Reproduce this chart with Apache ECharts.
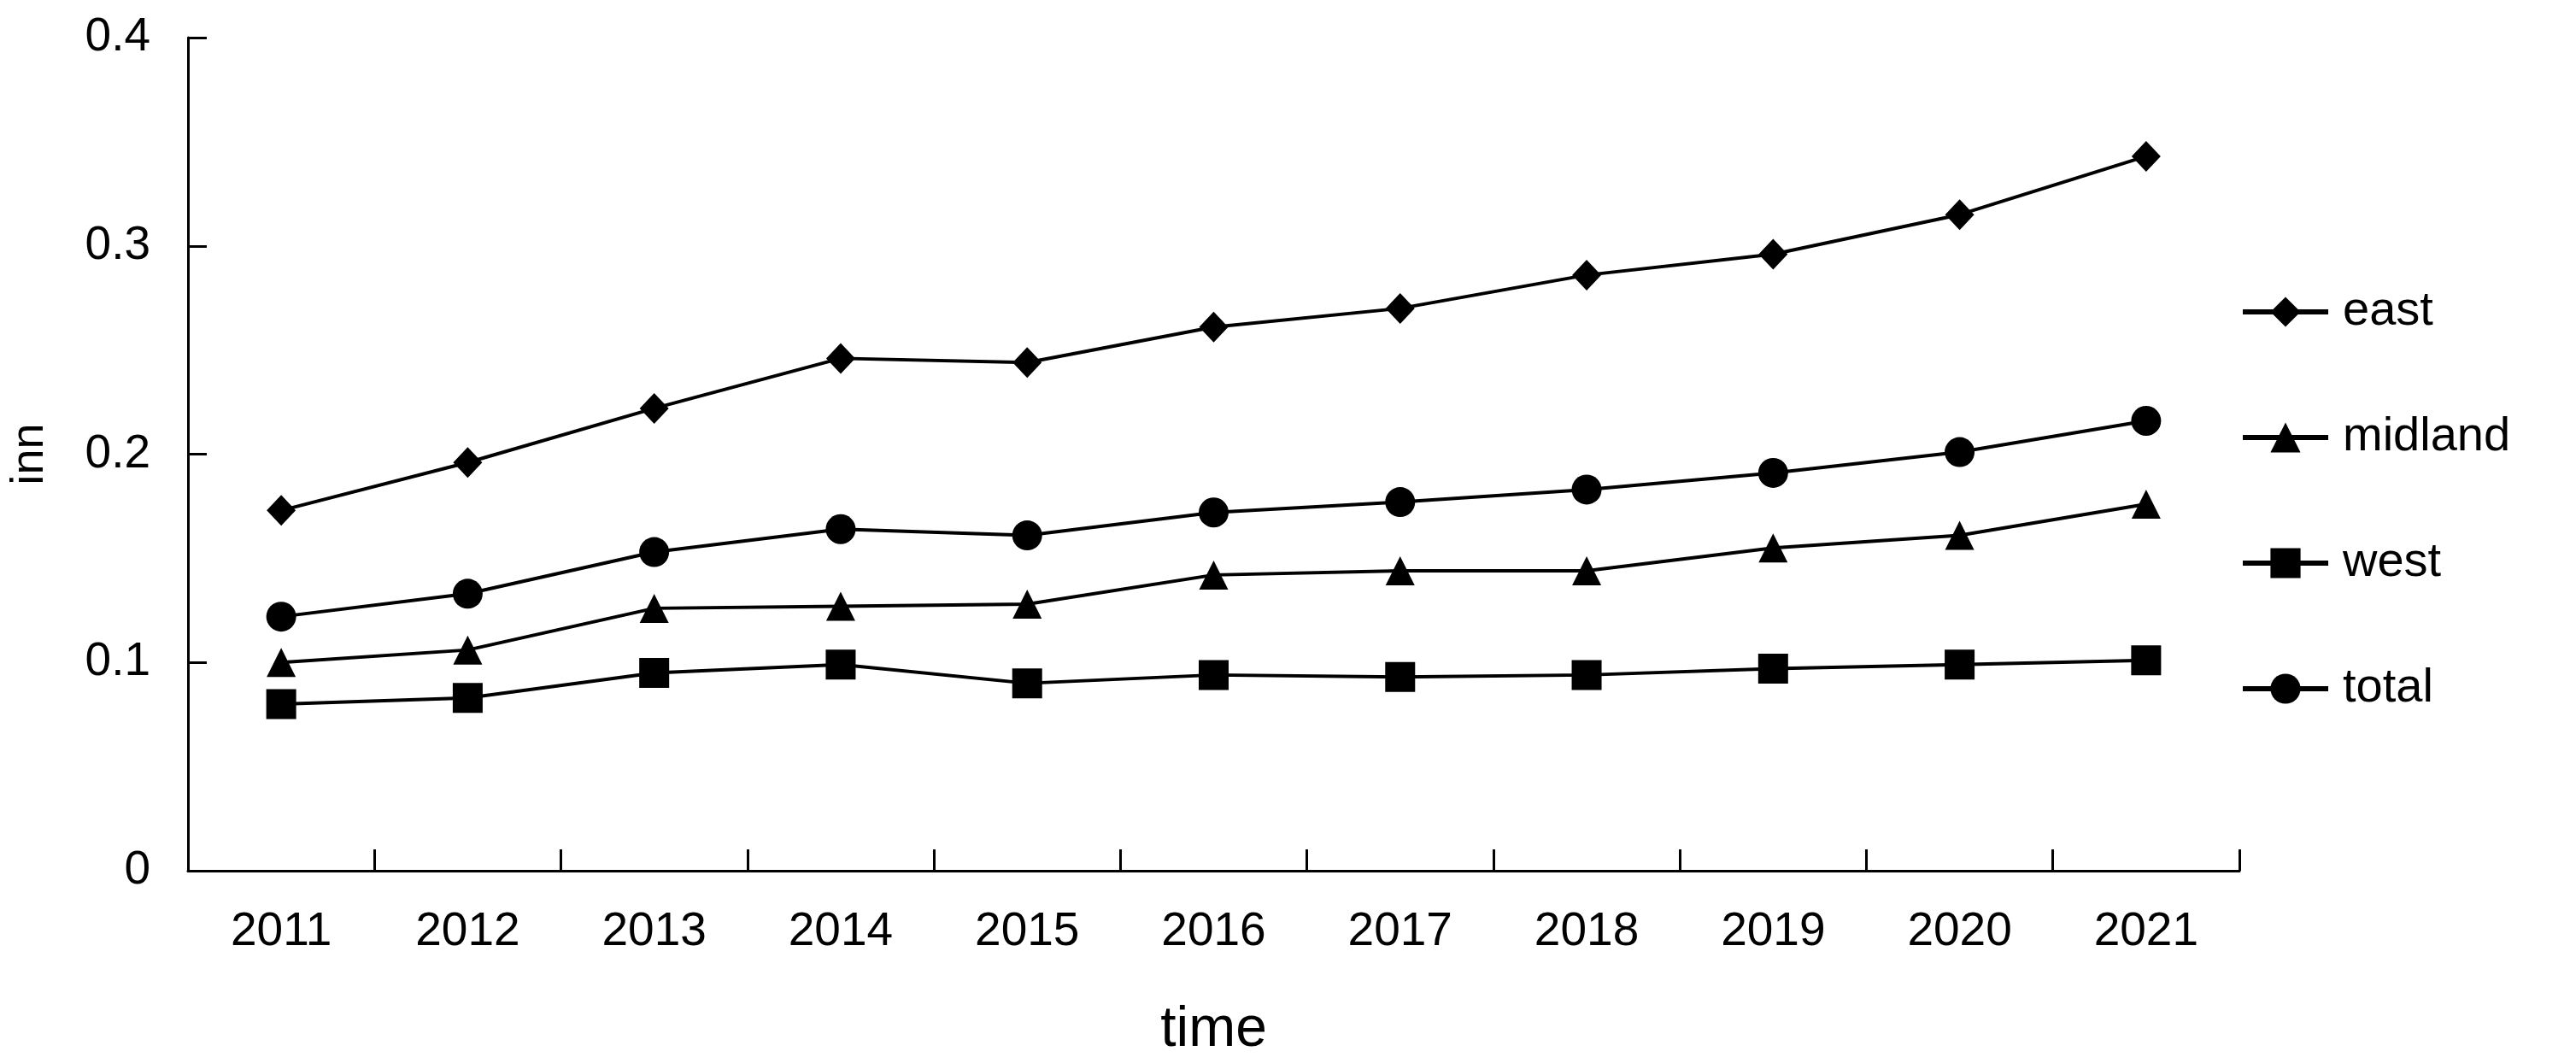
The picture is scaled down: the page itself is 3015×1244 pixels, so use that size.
<!DOCTYPE html>
<html>
<head>
<meta charset="utf-8">
<script src="https://cdn.jsdelivr.net/npm/echarts@6/dist/echarts.min.js"></script>
<style>
html,body{margin:0;padding:0;background:#fff;}
#chart{width:3015px;height:1244px;}
</style>
</head>
<body>
<div id="chart"></div>
<script>
const years = ['2011','2012','2013','2014','2015','2016','2017','2018','2019','2020','2021'];
const east    = [0.173, 0.196, 0.222, 0.246, 0.244, 0.261, 0.270, 0.286, 0.296, 0.315, 0.343];
const midland = [0.100, 0.106, 0.126, 0.127, 0.128, 0.142, 0.144, 0.144, 0.155, 0.161, 0.176];
const west    = [0.080, 0.083, 0.095, 0.099, 0.090, 0.094, 0.093, 0.094, 0.097, 0.099, 0.101];
const total   = [0.122, 0.133, 0.153, 0.164, 0.161, 0.172, 0.177, 0.183, 0.191, 0.201, 0.216];
const yTicks  = [0, 0.1, 0.2, 0.3, 0.4];

const FONT = 'Liberation Sans, Arial, Helvetica, sans-serif';
const chart = echarts.init(document.getElementById('chart'), null, {renderer:'canvas'});

function mkSeries(name, data, symbol, size){
  return {
    name, type:'line', data, symbol, symbolSize:size,
    lineStyle:{color:'#000', width:4},
    itemStyle:{color:'#000'},
    showAllSymbol:true, animation:false
  };
}

chart.setOption({
  backgroundColor:'#fff',
  animation:false,
  grid:{left:219, right:394, top:44, bottom:220, containLabel:false},
  legend:{
    orient:'vertical', left:2617, top:328,
    itemWidth:100, itemHeight:44, itemGap:83,
    lineStyle:{width:6, color:'#000'},
    textStyle:{fontFamily:FONT, fontSize:56, color:'#000', lineHeight:64, padding:[0,0,0,12]},
    data:['east','midland','west','total']
  },
  xAxis:{
    type:'category', data:years, boundaryGap:true,
    name:'time', nameLocation:'middle', nameGap:154,
    nameTextStyle:{fontFamily:FONT, fontSize:66, color:'#000'},
    axisLine:{lineStyle:{color:'#000', width:3}},
    axisTick:{show:true, inside:true, length:25, lineStyle:{color:'#000', width:3}, alignWithLabel:false},
    axisLabel:{fontFamily:FONT, fontSize:55, color:'#000', margin:44}
  },
  yAxis:{
    type:'value', min:yTicks[0], max:yTicks[yTicks.length-1], interval:0.1,
    name:'inn', nameLocation:'middle', nameGap:158, nameRotate:90,
    nameTextStyle:{fontFamily:FONT, fontSize:54, color:'#000'},
    axisLine:{show:true, lineStyle:{color:'#000', width:3}},
    axisTick:{show:true, inside:true, length:22, lineStyle:{color:'#000', width:3}},
    splitLine:{show:false},
    axisLabel:{fontFamily:FONT, fontSize:55, color:'#000', margin:44,
      formatter:function(v){ return v===0 ? '0' : v.toFixed(1); }}
  },
  series:[
    mkSeries('east', east, 'diamond', [34,36]),
    mkSeries('midland', midland, 'triangle', 34),
    mkSeries('west', west, 'rect', 35),
    mkSeries('total', total, 'circle', 35)
  ]
});
</script>
</body>
</html>
